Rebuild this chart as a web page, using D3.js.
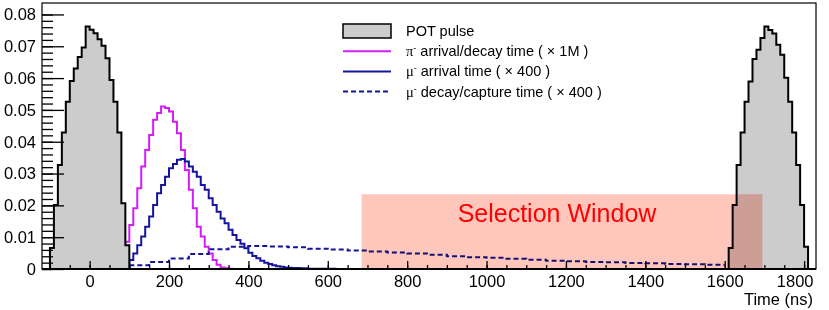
<!DOCTYPE html>
<html>
<head>
<meta charset="utf-8">
<script src="https://cdn.jsdelivr.net/npm/d3@7"></script>
<style>
  body { margin: 0; background: #fff; }
  text { font-family: "Liberation Sans", Arial, Helvetica, sans-serif; }
</style>
</head>
<body>
<div id="chart"></div>
<script>
// Histogram data (bin width 10 ns unless noted)
const binWidth = 10;

// POT pulses
const pulse1Start = -100;
const pulse1Values = [0.0066, 0.0201, 0.0327, 0.0429, 0.0526, 0.0591, 0.0630, 0.0666, 0.0696, 0.0762,
                      0.0752, 0.0741, 0.0722, 0.0702, 0.0662, 0.0594, 0.0526, 0.0429, 0.0207, 0.0075];
const pulse2Start = 1610;
const pulse2Values = [0.0066, 0.0201, 0.0327, 0.0429, 0.0526, 0.0589, 0.0660, 0.0689, 0.0726, 0.0762,
                      0.0751, 0.0740, 0.0705, 0.0673, 0.0601, 0.0526, 0.0429, 0.0327, 0.0201, 0.0070];

// pi- arrival/decay time (x 1M)
const pionStart = 90;
const pionValues = [0.0086, 0.0138, 0.0191, 0.0254, 0.0322, 0.0374, 0.0421, 0.0469, 0.0490, 0.0511,
                    0.0506, 0.0495, 0.0463, 0.0427, 0.0374, 0.0311, 0.0249, 0.0191, 0.0133, 0.0102,
                    0.0070, 0.0049, 0.0028, 0.0013, 0.0005, 0.0002, 0.0001];

// mu- arrival time (x 400)
const muArrStart = 100;
const muArrValues = [0.0028, 0.0049, 0.0075, 0.0102, 0.0133, 0.0165, 0.0201, 0.0238, 0.0264, 0.0290,
                     0.0317, 0.0330, 0.0343, 0.0346, 0.0338, 0.0322, 0.0306, 0.0290, 0.0264, 0.0249,
                     0.0222, 0.0201, 0.0180, 0.0159, 0.0144, 0.0123, 0.0107, 0.0091, 0.0079, 0.0065,
                     0.0051, 0.0041, 0.0034, 0.0026, 0.0020, 0.0016, 0.0012, 0.0009, 0.0007, 0.0005,
                     0.0004, 0.0003, 0.0003, 0.0002, 0.0002, 0.0001, 0.0001, 0.0001, 0.0001, 0.0001,
                     0.0001, 0.0001];

// mu- decay/capture time (x 400), 50 ns bins
const muDecStart = 100;
const muDecBin = 50;
const muDecValues = [0.0012, 0.0022, 0.0033, 0.0047, 0.0062, 0.0070, 0.0072, 0.0071, 0.0068, 0.0064,
                     0.0061, 0.0058, 0.0055, 0.0052, 0.0049, 0.0045, 0.0040, 0.0037, 0.0035, 0.0032,
                     0.0029, 0.0026, 0.0024, 0.0022, 0.0021, 0.0019, 0.0018, 0.0016, 0.0015, 0.0013];

// Selection window [ns] and its height
const windowRange = [685, 1695];
const windowHeight = 0.0235;

const xMajorTicks = d3.range(0, 1801, 200);
const xMinorTicks = d3.range(-100, 1801, 50);
const yMajorTicks = [0, 0.01, 0.02, 0.03, 0.04, 0.05, 0.06, 0.07, 0.08];
const yMinorTicks = d3.range(0, 41).map(i => i * 0.002);

const legendItems = [
    { kind: "box", label: "POT pulse" },
    { kind: "line", color: "#d21ef5", dash: null, sym: "\u03c0", label: " arrival/decay time ( \u00d7 1M )" },
    { kind: "line", color: "#14149c", dash: null, sym: "\u03bc", label: " arrival time ( \u00d7 400 )" },
    { kind: "line", color: "#14149c", dash: "5,3", sym: "\u03bc", label: " decay/capture time ( \u00d7 400 )" }
];

// Set dimensions
const width = 829;
const height = 310;
const frame = { left: 42, right: 816, top: 3, bottom: 269 };

const svg = d3.select("#chart").append("svg")
    .attr("width", width)
    .attr("height", height);

const x = d3.scaleLinear().domain([-120, 1830]).range([frame.left, frame.right]);
const y = d3.scaleLinear().domain([0, 0.0836]).range([frame.bottom, frame.top]);

// turn bins into step points, dropping to zero at both ends if asked
function stepPoints(start, bw, values, closed) {
    const pts = [];
    if (closed) pts.push([start, 0]);
    values.forEach((v, i) => pts.push([start + i * bw, v]));
    pts.push([start + values.length * bw, values[values.length - 1]]);
    if (closed) pts.push([start + values.length * bw, 0]);
    return pts;
}

const stepLine = d3.line()
    .x(d => x(d[0]))
    .y(d => y(d[1]))
    .curve(d3.curveStepAfter);

const straight = d3.line().x(d => x(d[0])).y(d => y(d[1]));

const plot = svg.append("g");

// pion
plot.append("path")
    .attr("d", stepLine(stepPoints(pionStart, binWidth, pionValues, true)))
    .attr("fill", "none")
    .attr("stroke", legendItems[1].color)
    .attr("stroke-width", 2);

// muon arrival
plot.append("path")
    .attr("d", stepLine(stepPoints(muArrStart, binWidth, muArrValues, true)))
    .attr("fill", "none")
    .attr("stroke", legendItems[2].color)
    .attr("stroke-width", 2);

// muon decay/capture (dashed)
plot.append("path")
    .attr("d", stepLine(stepPoints(muDecStart, muDecBin, muDecValues, false)))
    .attr("fill", "none")
    .attr("stroke", legendItems[3].color)
    .attr("stroke-width", 2)
    .attr("stroke-dasharray", legendItems[3].dash);

// POT pulses
[[pulse1Start, pulse1Values], [pulse2Start, pulse2Values]].forEach(([s, vals]) => {
    const pts = stepPoints(s, binWidth, vals, true);
    const stepped = [];
    pts.forEach((p, i) => {
        if (i > 0) stepped.push([p[0], pts[i - 1][1]]);
        stepped.push(p);
    });
    plot.append("path")
        .attr("d", straight(stepped) + "Z")
        .attr("fill", "#cccccc")
        .attr("stroke", "#000")
        .attr("stroke-width", 2)
        .attr("stroke-linejoin", "miter");
});

// Selection window
plot.append("rect")
    .attr("x", x(windowRange[0]))
    .attr("y", y(windowHeight))
    .attr("width", x(windowRange[1]) - x(windowRange[0]))
    .attr("height", y(0) - y(windowHeight))
    .attr("fill", "#ffc6bb")
    .style("mix-blend-mode", "multiply");

svg.append("text")
    .attr("x", 557)
    .attr("y", 222)
    .attr("text-anchor", "middle")
    .attr("fill", "#ff0000")
    .style("font-size", "25px")
    .text("Selection Window");

// Frame
svg.append("rect")
    .attr("x", frame.left)
    .attr("y", frame.top)
    .attr("width", frame.right - frame.left)
    .attr("height", frame.bottom - frame.top)
    .attr("fill", "none")
    .attr("stroke", "#000")
    .attr("stroke-width", 1.2);

svg.append("line")
    .attr("x1", frame.left).attr("x2", frame.right)
    .attr("y1", frame.bottom).attr("y2", frame.bottom)
    .attr("stroke", "#000")
    .attr("stroke-width", 2);

// Y ticks (inside the frame)
svg.append("g")
    .attr("transform", `translate(${frame.left},0)`)
    .call(d3.axisRight(y).tickValues(yMinorTicks).tickSize(11).tickFormat(""))
    .call(g => g.select(".domain").remove())
    .call(g => g.selectAll("line").attr("stroke-width", 1.3));

svg.append("g")
    .attr("transform", `translate(${frame.left},0)`)
    .call(d3.axisRight(y).tickValues(yMajorTicks).tickSize(22).tickFormat(""))
    .call(g => g.select(".domain").remove())
    .call(g => g.selectAll("line").attr("stroke-width", 1.3));

svg.append("g")
    .attr("transform", `translate(${frame.left},0)`)
    .call(d3.axisLeft(y).tickValues(yMajorTicks).tickSize(0).tickPadding(6)
        .tickFormat(d => d === 0 ? "0" : d3.format(".2f")(d)))
    .call(g => g.select(".domain").remove())
    .call(g => g.selectAll("text").attr("fill", "#000").style("font-size", "16.5px")
        .style("font-family", "'Liberation Sans', Arial, sans-serif"));

// X ticks (inside the frame)
svg.append("g")
    .attr("transform", `translate(0,${frame.bottom})`)
    .call(d3.axisTop(x).tickValues(xMinorTicks).tickSize(4).tickFormat(""))
    .call(g => g.select(".domain").remove())
    .call(g => g.selectAll("line").attr("stroke-width", 1.3));

svg.append("g")
    .attr("transform", `translate(0,${frame.bottom})`)
    .call(d3.axisTop(x).tickValues(xMajorTicks).tickSize(8).tickFormat(""))
    .call(g => g.select(".domain").remove())
    .call(g => g.selectAll("line").attr("stroke-width", 1.3));

svg.append("g")
    .attr("transform", `translate(0,${frame.bottom})`)
    .call(d3.axisBottom(x).tickValues(xMajorTicks).tickSize(0).tickPadding(6.5).tickFormat(d3.format("d")))
    .call(g => g.select(".domain").remove())
    .call(g => g.selectAll("text").attr("fill", "#000").style("font-size", "16.5px")
        .style("font-family", "'Liberation Sans', Arial, sans-serif"))
    // last label is pulled inside so it ends at the frame edge
    .call(g => g.selectAll(".tick").filter(d => d === 1800).select("text")
        .attr("text-anchor", "end").attr("x", 813 - x(1800)));

svg.append("text")
    .attr("x", 813)
    .attr("y", 305)
    .attr("text-anchor", "end")
    .style("font-size", "16.5px")
    .text("Time (ns)");

// Legend
const legend = svg.append("g").attr("transform", "translate(343,31)");
legendItems.forEach((d, i) => {
    const row = legend.append("g").attr("transform", `translate(0,${i * 20.2})`);
    if (d.kind === "box") {
        row.append("rect")
            .attr("x", 0).attr("y", -7)
            .attr("width", 48).attr("height", 14)
            .attr("fill", "#cccccc")
            .attr("stroke", "#000")
            .attr("stroke-width", 1.5);
    } else {
        row.append("line")
            .attr("x1", 0).attr("x2", 48)
            .attr("y1", 0).attr("y2", 0)
            .attr("stroke", d.color)
            .attr("stroke-width", 2)
            .attr("stroke-dasharray", d.dash);
    }
    const t = row.append("text")
        .attr("x", 63)
        .attr("y", 5)
        .style("font-size", "14.5px");
    if (d.sym) {
        t.append("tspan").style("font-family", "'Liberation Serif', 'Times New Roman', serif").text(d.sym);
        t.append("tspan").attr("dy", -5).style("font-size", "9px").text("-");
        t.append("tspan").attr("dy", 5).text(d.label);
    } else {
        t.text(d.label);
    }
});
</script>
</body>
</html>
